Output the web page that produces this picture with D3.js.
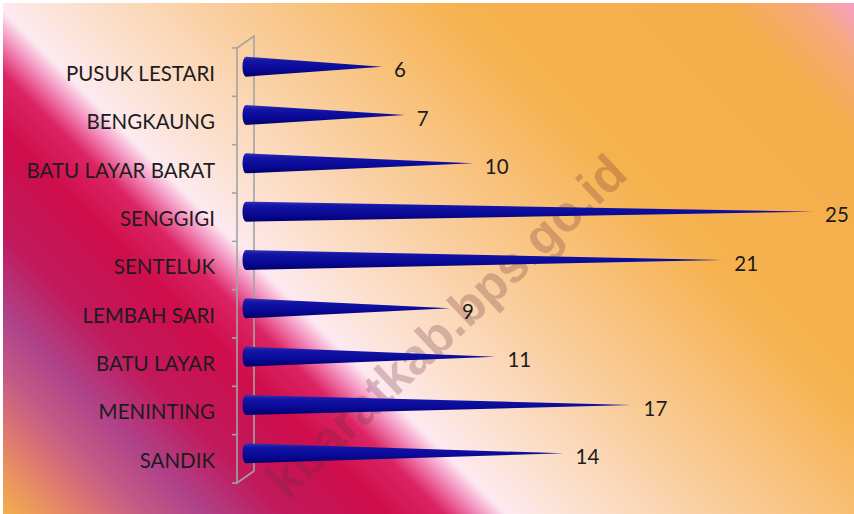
<!DOCTYPE html>
<html>
<head>
<meta charset="utf-8">
<script src="https://cdn.jsdelivr.net/npm/d3@7"></script>
<style>
  html, body { margin: 0; padding: 0; background: #fff; }
  svg { display: block; font-family: Lato, "Open Sans", sans-serif; }
</style>
</head>
<body>
<div id="chart"></div>
<script>
// Cone bar chart, one cone per desa
const categories = ["PUSUK LESTARI", "BENGKAUNG", "BATU LAYAR BARAT", "SENGGIGI", "SENTELUK",
  "LEMBAH SARI", "BATU LAYAR", "MENINTING", "SANDIK"];
const values = [6, 7, 10, 25, 21, 9, 11, 17, 14];
const watermark = "kbaratkab.bps.go.id";

(function () {
  const W = 854, H = 514;
  const svg = d3.select("#chart").append("svg")
    .attr("width", W).attr("height", H);
  const defs = svg.append("defs");

  // background: diagonal bands (orange / purple / crimson / white / peach / orange / pink)
  const bgStops = [
    [-514, "#f4b24c"], [-440, "#e2826a"], [-370, "#c45a86"], [-310, "#b0428a"],
    [-230, "#c01a5c"], [-130, "#cf0d4c"], [-70, "#dc2462"], [-36, "#f28cbc"],
    [-8, "#fde9f1"], [50, "#fce3d6"], [230, "#f9cb96"], [450, "#f6b24e"],
    [720, "#f5ad4c"], [800, "#f6a87e"], [854, "#f79fc8"]
  ];
  const bg = defs.append("linearGradient").attr("id", "bg")
    .attr("gradientUnits", "userSpaceOnUse")
    .attr("x1", 0).attr("y1", H).attr("x2", 684).attr("y2", H - 684);
  bg.selectAll("stop").data(bgStops).join("stop")
    .attr("offset", d => (d[0] + 514) / 1368)
    .attr("stop-color", d => d[1]);

  const cone = defs.append("linearGradient").attr("id", "cone")
    .attr("x1", 0).attr("y1", 0).attr("x2", 0).attr("y2", 1);
  [[0, "#3434b8"], [0.2, "#1414a6"], [0.6, "#0a0a98"], [1, "#00006c"]].forEach(s =>
    cone.append("stop").attr("offset", s[0]).attr("stop-color", s[1]));

  svg.append("rect").attr("x", 3).attr("y", 3).attr("width", W - 3).attr("height", H - 3)
    .attr("fill", "url(#bg)");

  const y = d3.scaleBand().domain(categories).range([48, 483]);
  const x = d3.scaleLinear().domain([0, 25]).range([246, 813]);

  // 3D wall of the category axis
  const fx = 237, dx = 17, dy = -12;
  const y0 = y.range()[0], y1 = y.range()[1];
  const bounds = categories.map(c => y(c)).concat([y1]);
  const wall = svg.append("g").attr("stroke", "#a3a3a3").attr("stroke-width", 1.6).attr("fill", "none");
  wall.append("path")
    .attr("d", `M${fx + dx},${y1 + dy}L${fx + dx},${y0 + dy}L${fx},${y0}L${fx},${y1}L${fx + dx},${y1 + dy}`);
  wall.selectAll("line").data(bounds).join("line")
    .attr("x1", fx - 5).attr("x2", fx).attr("y1", d => d).attr("y2", d => d);

  // watermark
  svg.append("text")
    .attr("transform", "translate(446,326) rotate(-43.4)")
    .attr("text-anchor", "middle").attr("dy", "0.35em")
    .attr("font-family", "Liberation Sans, Arial, sans-serif")
    .attr("font-weight", "bold").attr("font-size", 50)
    .attr("fill", "#6a2a3a").attr("fill-opacity", 0.26)
    .text(watermark);

  // cones
  const r = 10, rx = 3.5;
  const rows = categories.map((c, i) => ({ cat: c, val: values[i] }));
  svg.append("g").selectAll("path").data(rows).join("path")
    .attr("d", d => {
      const cy = y(d.cat) + y.bandwidth() / 2 - 5.5, b = x(0), t = x(d.val);
      return `M${b},${cy - r}L${t},${cy}L${b},${cy + r}A${rx},${r} 0 0 1 ${b},${cy - r}Z`;
    })
    .attr("fill", "url(#cone)");

  // value labels
  svg.append("g").selectAll("text").data(rows).join("text")
    .attr("x", d => x(d.val) + 12)
    .attr("y", d => y(d.cat) + y.bandwidth() / 2 - 2)
    .attr("dy", "0.35em")
    .attr("font-size", 20.5).attr("fill", "#1c1c1c")
    .text(d => d.val);

  // category labels
  svg.append("g").selectAll("text").data(categories).join("text")
    .attr("x", 215)
    .attr("y", d => y(d) + y.bandwidth() / 2 + 1.5)
    .attr("dy", "0.35em")
    .attr("text-anchor", "end")
    .attr("font-size", 20.5).attr("fill", "#1c1c1c")
    .text(d => d);
})();
</script>
</body>
</html>
